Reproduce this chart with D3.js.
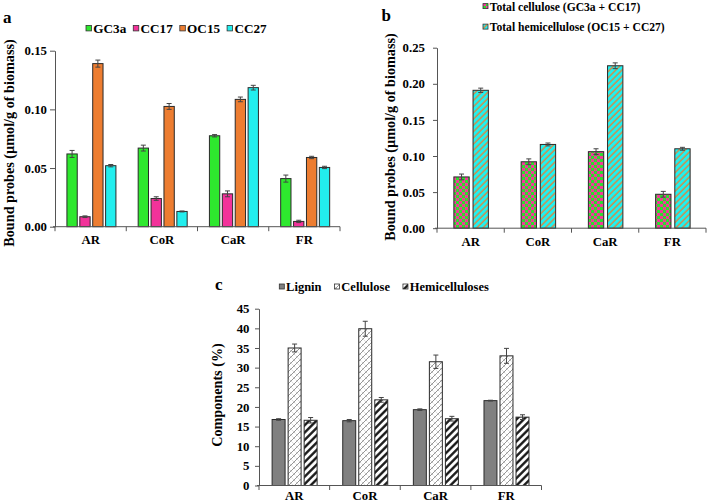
<!DOCTYPE html>
<html><head><meta charset="utf-8">
<script src="https://cdn.jsdelivr.net/npm/d3@7"></script>
<style>
body{margin:0;background:#fff}
</style>
</head><body>
<svg id="fig" width="709" height="504" font-family="Liberation Serif" font-weight="bold"></svg>
<script>
// ---------- data ----------
const categories = ["AR", "CoR", "CaR", "FR"];

// panel a: bound probes (µmol/g of biomass)
const probeNames = ["GC3a", "CC17", "OC15", "CC27"];
const gc3aValues = [0.062, 0.067, 0.0775, 0.041];
const gc3aErrors = [0.003, 0.0025, 0.001, 0.003];
const cc17Values = [0.0085, 0.024, 0.028, 0.0045];
const cc17Errors = [0.0007, 0.0015, 0.0025, 0.001];
const oc15Values = [0.139, 0.1025, 0.1085, 0.059];
const oc15Errors = [0.003, 0.0025, 0.002, 0.001];
const cc27Values = [0.052, 0.013, 0.1185, 0.0505];
const cc27Errors = [0.001, 0.0004, 0.002, 0.001];
const probeTicks = [0, 0.05, 0.10, 0.15];

// panel b: totals
const totalNames = ["Total cellulose (GC3a + CC17)", "Total hemicellulose (OC15 + CC27)"];
const totalCelluloseValues = [0.071, 0.092, 0.106, 0.047];
const totalCelluloseErrors = [0.004, 0.004, 0.004, 0.004];
const totalHemiValues = [0.191, 0.116, 0.225, 0.110];
const totalHemiErrors = [0.003, 0.002, 0.004, 0.002];
const totalTicks = [0, 0.05, 0.10, 0.15, 0.20, 0.25];

// panel c: components (%)
const componentNames = ["Lignin", "Cellulose", "Hemicelluloses"];
const ligninValues = [16.8, 16.5, 19.3, 21.6];
const ligninErrors = [0.2, 0.3, 0.2, 0.1];
const celluloseValues = [35.0, 39.9, 31.5, 33.0];
const celluloseErrors = [1.0, 1.9, 1.7, 1.9];
const hemiValues = [16.6, 21.8, 17.0, 17.4];
const hemiErrors = [0.7, 0.6, 0.6, 0.6];
const componentTicks = [0, 5, 10, 15, 20, 25, 30, 35, 40, 45];

const yTitle = "Bound probes (µmol/g of biomass)";
const FONT = "Liberation Serif";

// ---------- drawing ----------
const svg = d3.select("#fig");
svg.append("rect").attr("width", 709).attr("height", 504).attr("fill", "#fff");
const defs = svg.append("defs");

// checker pattern (green/pink)
const chk = defs.append("pattern").attr("id", "checker").attr("patternUnits", "userSpaceOnUse")
  .attr("width", 6).attr("height", 6);
chk.append("rect").attr("width", 6).attr("height", 6).attr("fill", "#2fdc2f");
chk.append("rect").attr("width", 3).attr("height", 3).attr("fill", "#f23a9a");
chk.append("rect").attr("x", 3).attr("y", 3).attr("width", 3).attr("height", 3).attr("fill", "#f23a9a");

// cyan with orange diagonal stripes
const cs = defs.append("pattern").attr("id", "cyanStripe").attr("patternUnits", "userSpaceOnUse")
  .attr("width", 4.4).attr("height", 4.4).attr("patternTransform", "rotate(45)");
cs.append("rect").attr("width", 4.4).attr("height", 4.4).attr("fill", "#1ef2f2");
cs.append("line").attr("x1", 1).attr("x2", 1).attr("y1", 0).attr("y2", 4.4)
  .attr("stroke", "#ed7d31").attr("stroke-width", 1.3);

// cellulose lattice
const lat = defs.append("pattern").attr("id", "lattice").attr("patternUnits", "userSpaceOnUse")
  .attr("width", 6).attr("height", 6);
lat.append("rect").attr("width", 6).attr("height", 6).attr("fill", "#fff");
lat.append("path").attr("d", "M0,6 L6,0 M-1,1 L1,-1 M5,7 L7,5").attr("stroke", "#8a8a8a").attr("stroke-width", 0.9);
lat.append("path").attr("d", "M0,0 L6,6 M-1,5 L1,7 M5,-1 L7,1").attr("stroke", "#b0b0b0").attr("stroke-width", 0.7)
  .attr("stroke-dasharray", "1.5,1");

// hemicelluloses black diagonal stripes
const hs = defs.append("pattern").attr("id", "blackStripe").attr("patternUnits", "userSpaceOnUse")
  .attr("width", 5.2).attr("height", 5.2).attr("patternTransform", "rotate(45)");
hs.append("rect").attr("width", 5.2).attr("height", 5.2).attr("fill", "#fff");
hs.append("line").attr("x1", 1.3).attr("x2", 1.3).attr("y1", 0).attr("y2", 5.2)
  .attr("stroke", "#111").attr("stroke-width", 2.3);

function drawPanel(cfg) {
  const g = svg.append("g");
  const x = d3.scaleBand().domain(categories).range([cfg.x0, cfg.x1]).padding(0);
  const y = d3.scaleLinear().domain([0, cfg.yMax]).range([cfg.yZero, cfg.yTopPx]);
  const inner = d3.scaleBand().domain(cfg.series.map(s => s.name))
    .range([-cfg.groupW / 2, cfg.groupW / 2]).paddingInner(cfg.pad).paddingOuter(0);

  cfg.series.forEach(s => {
    const sg = g.append("g");
    sg.selectAll("rect").data(categories).join("rect")
      .attr("x", (c) => x(c) + x.bandwidth() / 2 + inner(s.name) + (cfg.shift || 0))
      .attr("y", (c, i) => y(s.values[i]))
      .attr("width", inner.bandwidth())
      .attr("height", (c, i) => y(0) - y(s.values[i]))
      .attr("fill", s.fill).attr("stroke", "#2a2a2a").attr("stroke-width", 1);
    const eg = sg.selectAll("g.err").data(categories).join("g").attr("class", "err");
    const cx = (c) => x(c) + x.bandwidth() / 2 + inner(s.name) + inner.bandwidth() / 2 + (cfg.shift || 0);
    eg.append("line").attr("x1", cx).attr("x2", cx)
      .attr("y1", (c, i) => y(s.values[i] - s.errors[i])).attr("y2", (c, i) => y(s.values[i] + s.errors[i]))
      .attr("stroke", "#444").attr("stroke-width", 1);
    eg.append("line").attr("x1", c => cx(c) - 2.5).attr("x2", c => cx(c) + 2.5)
      .attr("y1", (c, i) => y(s.values[i] + s.errors[i])).attr("y2", (c, i) => y(s.values[i] + s.errors[i]))
      .attr("stroke", "#444").attr("stroke-width", 1);
    eg.append("line").attr("x1", c => cx(c) - 2.5).attr("x2", c => cx(c) + 2.5)
      .attr("y1", (c, i) => y(s.values[i] - s.errors[i])).attr("y2", (c, i) => y(s.values[i] - s.errors[i]))
      .attr("stroke", "#444").attr("stroke-width", 1);
  });

  const ya = g.append("g").attr("transform", `translate(${cfg.x0},0)`)
    .call(d3.axisLeft(y).tickValues(cfg.ticks).tickFormat(cfg.fmt).tickSize(cfg.tickSize).tickSizeOuter(0).tickPadding(cfg.tickPad));
  ya.attr("font-family", FONT).attr("font-weight", "bold").attr("font-size", cfg.tickFont);
  ya.selectAll("text").attr("fill", "#000");
  ya.selectAll("path,line").attr("stroke", "#555");

  const xa = g.append("g").attr("transform", `translate(0,${cfg.yZero})`)
    .call(d3.axisBottom(x).tickSize(0).tickPadding(cfg.xPad));
  xa.attr("font-family", FONT).attr("font-weight", "bold").attr("font-size", 12.8);
  xa.selectAll("text").attr("fill", "#000");
  xa.select("path").attr("stroke", "#555").attr("d", `M${cfg.x0 - 2},0H${cfg.x1}`);
  const bounds = categories.map(c => x(c)).concat([x(categories[categories.length - 1]) + x.bandwidth()]);
  g.selectAll("line.bt").data(bounds).join("line").attr("class", "bt")
    .attr("x1", d => d).attr("x2", d => d).attr("y1", cfg.yZero).attr("y2", cfg.yZero + 4.5)
    .attr("stroke", "#555");

  g.append("text").attr("transform", `translate(${cfg.titleX},${cfg.titleY}) rotate(-90)`)
    .attr("text-anchor", "middle").attr("font-size", cfg.titleFont).text(cfg.title);
  g.append("text").attr("x", cfg.letterX).attr("y", cfg.letterY).attr("font-size", 17).text(cfg.letter);
}

function legendRow(items, x, y, font, gapAfter, sw) {
  let cx = x;
  items.forEach(it => {
    svg.append("rect").attr("x", cx).attr("y", y - sw - 0.5 - font * 0.12).attr("width", sw).attr("height", sw)
      .attr("fill", it.fill).attr("stroke", "#333").attr("stroke-width", 0.8);
    const t = svg.append("text").attr("x", cx + sw + 1.8).attr("y", y).attr("font-size", font)
      .attr("font-family", FONT).attr("font-weight", "bold").text(it.name);
    cx = cx + sw + 1.8 + t.node().getComputedTextLength() + gapAfter;
  });
}

const probeFills = ["#2ee82e", "#f2329a", "#ed7d31", "#22eeee"];
drawPanel({
  x0: 55, x1: 340, yZero: 226.7, yTopPx: 50.7, yMax: 0.15, ticks: probeTicks, fmt: d3.format(".2f"),
  tickSize: 5, tickPad: 3, tickFont: 12.8, xPad: 8.5,
  groupW: 49, pad: 0.2, shift: 0.8,
  series: [
    {name: probeNames[0], values: gc3aValues, errors: gc3aErrors, fill: probeFills[0]},
    {name: probeNames[1], values: cc17Values, errors: cc17Errors, fill: probeFills[1]},
    {name: probeNames[2], values: oc15Values, errors: oc15Errors, fill: probeFills[2]},
    {name: probeNames[3], values: cc27Values, errors: cc27Errors, fill: probeFills[3]}
  ],
  title: yTitle, titleX: 13.5, titleY: 143, titleFont: 14.2, letter: "a", letterX: 3, letterY: 23
});
legendRow(probeNames.map((n, i) => ({name: n, fill: probeFills[i]})), 86, 33, 13.2, 7, 5.5);

drawPanel({
  x0: 437, x1: 706, yZero: 228.2, yTopPx: 47.7, yMax: 0.25, ticks: totalTicks, fmt: d3.format(".2f"),
  tickSize: 4, tickPad: 8, tickFont: 12.8, xPad: 8.5,
  groupW: 34.5, pad: 0.2, shift: 0.5,
  series: [
    {name: totalNames[0], values: totalCelluloseValues, errors: totalCelluloseErrors, fill: "url(#checker)"},
    {name: totalNames[1], values: totalHemiValues, errors: totalHemiErrors, fill: "url(#cyanStripe)"}
  ],
  title: yTitle, titleX: 395, titleY: 137, titleFont: 14.2, letter: "b", letterX: 381.5, letterY: 20.7
});
legendRow([{name: totalNames[0], fill: "url(#checker)"}], 483, 10.5, 11.6, 5, 5);
legendRow([{name: totalNames[1], fill: "url(#cyanStripe)"}], 483, 31, 11.6, 5, 5);

drawPanel({
  x0: 259, x1: 541.5, yZero: 485.5, yTopPx: 308.7, yMax: 45, ticks: componentTicks, fmt: d3.format("d"),
  tickSize: 4, tickPad: 5.5, tickFont: 12.8, xPad: 5,
  groupW: 45, pad: 0.19, shift: 0.3,
  series: [
    {name: componentNames[0], values: ligninValues, errors: ligninErrors, fill: "#808080"},
    {name: componentNames[1], values: celluloseValues, errors: celluloseErrors, fill: "url(#lattice)"},
    {name: componentNames[2], values: hemiValues, errors: hemiErrors, fill: "url(#blackStripe)"}
  ],
  title: "Components (%)", titleX: 222, titleY: 395, titleFont: 14.2, letter: "c", letterX: 215, letterY: 290
});
legendRow([
  {name: componentNames[0], fill: "#808080"},
  {name: componentNames[1], fill: "url(#lattice)"},
  {name: componentNames[2], fill: "url(#blackStripe)"}
], 279.3, 291, 12.5, 13, 5);

svg.selectAll("text").attr("font-family", FONT).attr("font-weight", "bold");
</script>
</body></html>
